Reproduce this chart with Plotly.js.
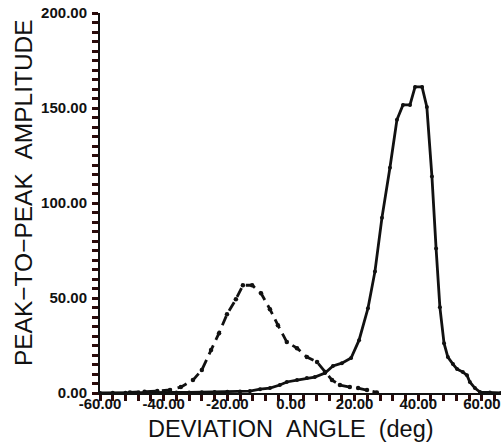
<!DOCTYPE html>
<html>
<head>
<meta charset="utf-8">
<script src="https://cdn.plot.ly/plotly-3.0.1.min.js"></script>
<style>html,body{margin:0;padding:0;background:#fff}#chart{width:501px;height:446px}</style>
</head>
<body>
<div id="chart"></div>
<script>
// Solid curve
const solidX = [-60,-56,-52,-48,-44,-40,-36,-32,-28,-24,-20,-16,-12.9,-9.7,-6.6,-3.5,-1.3,1.9,5.0,7.5,10.7,13.2,16.0,18.9,21.4,24.2,26.4,28.6,31.1,33.3,35.2,37.4,39.0,41.2,42.7,44.3,45.6,46.8,48.1,49.3,50.9,52.2,54.0,55.3,56.2,57.8,59.4,62.5,66];
const solidY = [0,0.1,0.1,0.2,0.2,0.3,0.3,0.3,0.4,0.5,0.6,0.8,1.0,2.0,2.6,4.2,5.8,6.8,7.9,8.4,10.5,14.2,15.7,18.4,27.8,44.6,64.0,92.3,118.6,143.8,151.6,151.6,161.1,161.1,150.5,113.9,76.1,45.1,26.2,18.9,15.2,12.6,11.0,9.4,5.8,2.6,0.5,0.2,0];
// Dashed curve
const dashX = [-50.6,-46,-42,-38,-34.6,-30.8,-28.0,-25.1,-22.6,-20.1,-17.3,-15.1,-12.2,-9.4,-6.6,-4.1,-1.3,1.9,5.0,8.2,10.7,12.9,15.4,18.5,21.1,23.9,27.0];
const dashY = [0.3,0.6,1.0,1.6,3.1,6.8,12.1,22.6,31.5,41.4,49.3,56.7,56.7,52.5,44.1,35.7,26.8,23.6,18.9,16.3,11.0,6.8,4.2,3.1,2.6,1.6,0.3];

// Tick labels
const xMajorVals = [-60,-40,-20,0,20,40,60];
const xMajorLabels = ['-60.00','-40.00','-20.00','0.00','20.00','40.00','60.00'];
const yMajorVals = [0,50,100,150,200];
const yMajorLabels = ['0.00','50.00','100.00','150.00','200.00'];
const xMinorStep = 4;
const yMinorStep = 5;

const xTitle = "DEVIATION\u00a0\u00a0ANGLE\u00a0\u00a0(deg)";
const yTitle = "PEAK\u2212TO\u2212PEAK\u00a0\u00a0AMPLITUDE";

function buildTicks(lo, hi, step, majVals, majLabels) {
  const vals = [], text = [];
  for (let v = lo; v <= hi + 1e-9; v += step) {
    const r = Math.round(v * 1000) / 1000;
    vals.push(r);
    const i = majVals.indexOf(r);
    text.push(i >= 0 ? majLabels[i] : '');
  }
  return {vals, text};
}
const xt = buildTicks(-60, 64, xMinorStep, xMajorVals, xMajorLabels);
const yt = buildTicks(0, 200, yMinorStep, yMajorVals, yMajorLabels);

const ink = '#111';
const tickInk = '#2a0a0a';
const traces = [
  {x: solidX, y: solidY, mode: 'lines+markers', line: {color: ink, width: 2.8}, marker: {color: ink, size: 4}, showlegend: false, hoverinfo: 'skip'},
  {x: dashX, y: dashY, mode: 'lines+markers', line: {color: ink, width: 2.8, dash: '10px,6px'}, marker: {color: ink, size: 4.5}, showlegend: false, hoverinfo: 'skip'}
];

const tickFont = {family: 'Liberation Sans, Arial, sans-serif', size: 15, color: ink, weight: 'bold'};
const titleFont = {family: 'Liberation Sans, Arial, sans-serif', size: 23.5, color: ink};
const yTitleFont = {family: 'Liberation Sans, Arial, sans-serif', size: 24.5, color: ink};
const layout = {
  width: 501, height: 446,
  margin: {l: 100, r: 0, t: 13, b: 53},
  paper_bgcolor: '#fff', plot_bgcolor: '#fff',
  xaxis: {
    range: [-60, 66], tickmode: 'array', tickvals: xt.vals, ticktext: xt.text,
    showgrid: false, zeroline: false, showline: true, linecolor: ink, linewidth: 2,
    ticks: 'outside', ticklen: 6, tickwidth: 3, tickcolor: tickInk,
    tickfont: tickFont, ticklabelstandoff: -10,
    automargin: false
  },
  yaxis: {
    range: [0, 200], tickmode: 'array', tickvals: yt.vals, ticktext: yt.text,
    showgrid: false, zeroline: false, showline: true, linecolor: ink, linewidth: 2,
    ticks: 'outside', ticklen: 6, tickwidth: 3, tickcolor: tickInk,
    tickfont: tickFont, ticklabelstandoff: 2,
    automargin: false
  },
  annotations: [
    {text: xTitle, xref: 'x', x: 0, yref: 'paper', y: 0, yshift: -21, yanchor: 'top', xanchor: 'center', showarrow: false, font: titleFont},
    {text: yTitle, xref: 'paper', x: 0, xshift: -77, yref: 'y', y: 105.2, textangle: -90, xanchor: 'center', yanchor: 'middle', showarrow: false, font: yTitleFont}
  ]
};
Plotly.newPlot('chart', traces, layout, {displayModeBar: false, staticPlot: true});
</script>
</body>
</html>
